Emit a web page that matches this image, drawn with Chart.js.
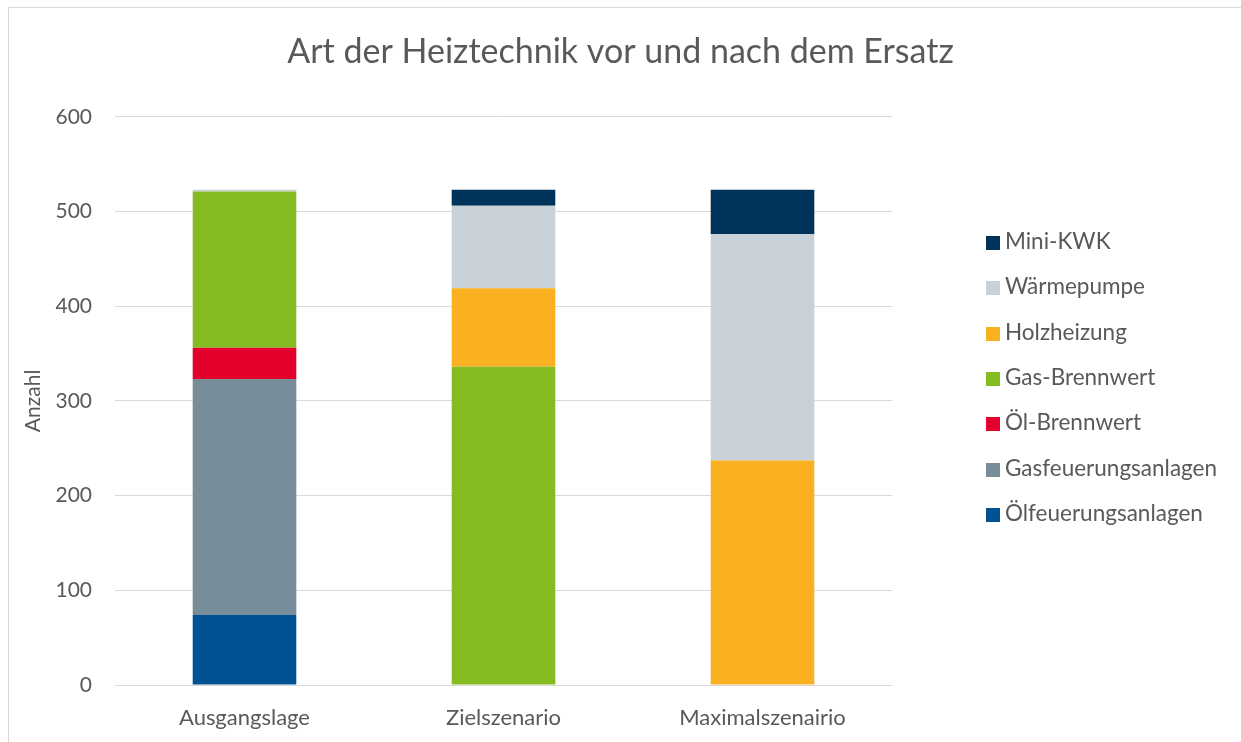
<!DOCTYPE HTML>
<html lang="de">
<head>
    <meta charset="utf-8">
    <title>Art der Heiztechnik</title>
    <script src="https://cdn.jsdelivr.net/npm/chart.js@4/dist/chart.umd.min.js"></script>
    <style>
        body {
            margin: 0;
            background: #fff;
            font-family: Lato, sans-serif;
        }

        #frame {
            position: absolute;
            left: 8px;
            top: 7px;
            width: 1300px;
            height: 800px;
            border: 1px solid #d9d9d9;
        }

        #wrap {
            position: absolute;
            left: 0;
            top: 0;
            width: 1241px;
            height: 742px;
        }

        #legend {
            position: absolute;
            left: 986px;
            top: 0;
            margin: 0;
            padding: 0;
            list-style-type: none;
        }

        #legend li {
            position: absolute;
            left: 0;
            height: 26px;
            line-height: 26px;
            white-space: nowrap;
            font-size: 22.5px;
            color: #595959;
        }

        #legend li span {
            display: inline-block;
            width: 14px;
            height: 14px;
            margin-right: 5px;
            vertical-align: -1px;
        }
    </style>
</head>
<body>
    <div id="frame"></div>
    <div id="wrap">
        <canvas id="chart" width="1241" height="742"></canvas>
    </div>
    <ul id="legend"></ul>

    <script>
        const categories = ['Ausgangslage', 'Zielszenario', 'Maximalszenairio'];

        // Anzahl je Heiztechnik, von unten nach oben gestapelt
        const oelFeuerung = [74, 0, 0];
        const gasFeuerung = [249, 0, 0];
        const oelBrennwert = [33, 0, 0];
        const gasBrennwert = [165, 336, 0];
        const holzheizung = [0, 83, 237];
        const waermepumpe = [2, 87, 239];
        const miniKwk = [0, 17, 47];

        const yTicks = [0, 100, 200, 300, 400, 500, 600];

        const textColor = '#595959';
        const fontFamily = 'Lato, sans-serif';

        const datasets = [
            { label: 'Ölfeuerungsanlagen', data: oelFeuerung, backgroundColor: '#005293' },
            { label: 'Gasfeuerungsanlagen', data: gasFeuerung, backgroundColor: '#778d99' },
            { label: 'Öl-Brennwert', data: oelBrennwert, backgroundColor: '#e3002d' },
            { label: 'Gas-Brennwert', data: gasBrennwert, backgroundColor: '#85bc22' },
            { label: 'Holzheizung', data: holzheizung, backgroundColor: '#f9b122' },
            { label: 'Wärmepumpe', data: waermepumpe, backgroundColor: '#c9d1d8' },
            { label: 'Mini-KWK', data: miniKwk, backgroundColor: '#003359' }
        ];

        const chart = new Chart(document.getElementById('chart').getContext('2d'), {
            type: 'bar',
            data: {
                labels: categories,
                datasets: datasets.map(ds => Object.assign({
                    borderWidth: 0,
                    categoryPercentage: 1,
                    barPercentage: 0.4
                }, ds))
            },
            options: {
                responsive: false,
                animation: false,
                layout: {
                    padding: 0
                },
                plugins: {
                    legend: { display: false },
                    tooltip: { enabled: false },
                    title: {
                        display: true,
                        text: 'Art der Heiztechnik vor und nach dem Ersatz',
                        color: textColor,
                        font: { family: fontFamily, size: 34, weight: 'normal' },
                        padding: { top: 32, bottom: 44 },
                        align: 'center',
                        fullSize: true
                    }
                },
                scales: {
                    x: {
                        stacked: true,
                        afterFit: scale => { scale.height = 57; },
                        grid: { display: false },
                        border: { display: false },
                        ticks: {
                            color: textColor,
                            font: { family: fontFamily, size: 22 },
                            padding: 12
                        }
                    },
                    y: {
                        stacked: true,
                        min: 0,
                        max: 600,
                        afterFit: scale => { scale.width = 115; },
                        afterBuildTicks: scale => {
                            scale.ticks = yTicks.map(v => ({ value: v }));
                        },
                        grid: {
                            color: '#d9d9d9',
                            lineWidth: 1,
                            drawTicks: false
                        },
                        border: { display: false },
                        ticks: {
                            color: textColor,
                            font: { family: fontFamily, size: 21 },
                            padding: 23
                        },
                        title: {
                            display: true,
                            text: 'Anzahl',
                            color: textColor,
                            font: { family: fontFamily, size: 21 },
                            padding: { top: 21, bottom: 0 }
                        }
                    },
                    // freier Platz rechts für die Legende
                    legendSpace: {
                        position: 'right',
                        display: true,
                        min: 0,
                        max: 600,
                        afterFit: scale => { scale.width = 349; },
                        grid: { display: false },
                        border: { display: false },
                        ticks: { display: false }
                    }
                }
            }
        });

        // Legende rechts, oberste Serie zuerst
        const legend = document.getElementById('legend');
        chart.data.datasets.slice().reverse().forEach((ds, i) => {
            const li = document.createElement('li');
            li.style.top = (241 - 13 + i * 45.33) + 'px';
            const box = document.createElement('span');
            box.style.background = ds.backgroundColor;
            li.appendChild(box);
            li.appendChild(document.createTextNode(ds.label));
            legend.appendChild(li);
        });
    </script>
</body>
</html>
